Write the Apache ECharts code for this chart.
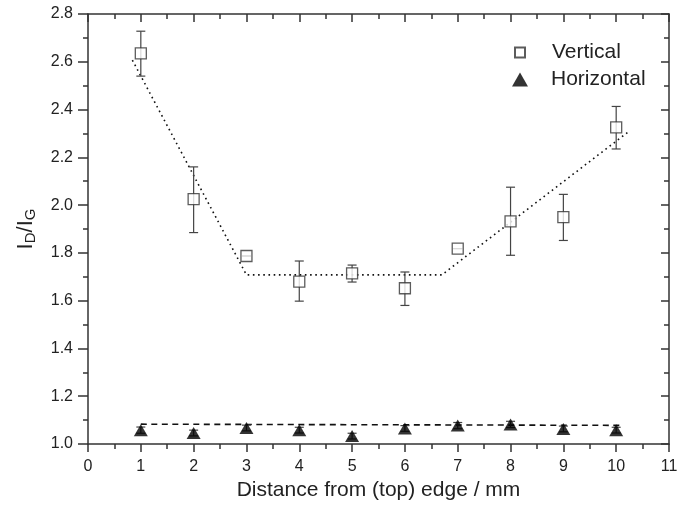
<!DOCTYPE html>
<html><head><meta charset="utf-8">
<script src="https://cdn.jsdelivr.net/npm/echarts@6/dist/echarts.min.js"></script>
<style>html,body{margin:0;padding:0;background:#fff}#c{width:691px;height:506px}</style>
</head><body><div id="c"></div>
<script>
// ---- data ----
var positions = [1, 2, 3, 4, 5, 6, 7, 8, 9, 10];
var verticalVals = [2.635, 2.025, 1.787, 1.680, 1.714, 1.652, 1.818, 1.932, 1.950, 2.325];
var verticalLow  = [2.540, 1.885, 1.787, 1.598, 1.678, 1.580, 1.818, 1.790, 1.852, 2.235];
var verticalHigh = [2.728, 2.160, 1.787, 1.766, 1.749, 1.720, 1.818, 2.075, 2.045, 2.413];
var horizontalVals = [1.058, 1.046, 1.067, 1.058, 1.033, 1.065, 1.077, 1.082, 1.063, 1.058];
var horizontalLow  = [1.045, 1.034, 1.055, 1.046, 1.021, 1.053, 1.064, 1.069, 1.051, 1.046];
var horizontalHigh = [1.071, 1.058, 1.079, 1.070, 1.045, 1.077, 1.090, 1.095, 1.075, 1.070];
var verticalFitX = [0.84, 3.0, 6.7, 10.25];
var verticalFitY = [2.607, 1.708, 1.708, 2.31];
var horizontalFitX = [1.0, 10.1];
var horizontalFitY = [1.083, 1.078];
var xTicks = [0, 1, 2, 3, 4, 5, 6, 7, 8, 9, 10, 11];
var yTicks = [1.0, 1.2, 1.4, 1.6, 1.8, 2.0, 2.2, 2.4, 2.6, 2.8];

function zip(a, b) { return a.map(function (v, i) { return [v, b[i]]; }); }
function zip3(a, b, c) { return a.map(function (v, i) { return [v, b[i], c[i]]; }); }

var INK = '#222';
var FONT = 'Liberation Sans, Arial, sans-serif';

function errRender(params, api) {
  var x = api.value(0);
  var lo = api.coord([x, api.value(1)]);
  var hi = api.coord([x, api.value(2)]);
  var w = 4.5;
  var st = { stroke: '#444', lineWidth: 1.2, fill: null };
  return {
    type: 'group',
    children: [
      { type: 'line', shape: { x1: lo[0], y1: lo[1], x2: hi[0], y2: hi[1] }, style: st },
      { type: 'line', shape: { x1: lo[0] - w, y1: lo[1], x2: lo[0] + w, y2: lo[1] }, style: st },
      { type: 'line', shape: { x1: hi[0] - w, y1: hi[1], x2: hi[0] + w, y2: hi[1] }, style: st }
    ]
  };
}

var axisLine = { show: true, onZero: false, lineStyle: { color: '#333', width: 1.5 } };
var tickStyle = { color: '#333', width: 1.5 };
var legendText = { fontFamily: FONT, fontSize: 21, color: INK };
var chart = echarts.init(document.getElementById('c'));
chart.setOption({
  animation: false,
  backgroundColor: '#fff',
  grid: { left: 88, right: 22, top: 14, bottom: 61, containLabel: false },
  legend: [{
    left: 509, top: 37, itemWidth: 10, itemHeight: 10, itemGap: 0,
    textStyle: Object.assign({ padding: [0, 0, 0, 22] }, legendText),
    data: ['Vertical']
  }, {
    left: 507, top: 64, itemWidth: 16, itemHeight: 14, itemGap: 0,
    textStyle: Object.assign({ padding: [0, 0, 0, 18] }, legendText),
    data: ['Horizontal']
  }],
  xAxis: [{
    type: 'value', min: xTicks[0], max: xTicks[xTicks.length - 1], interval: 1,
    position: 'bottom',
    name: 'Distance from (top) edge / mm', nameLocation: 'middle', nameGap: 36,
    nameTextStyle: { fontFamily: FONT, fontSize: 21, color: INK },
    axisLine: axisLine,
    axisTick: { show: true, length: 8, lineStyle: tickStyle },
    minorTick: { show: true, splitNumber: 2, length: 5, lineStyle: tickStyle },
    axisLabel: { fontFamily: FONT, fontSize: 16, color: INK, margin: 15 },
    splitLine: { show: false }
  }, {
    type: 'value', min: xTicks[0], max: xTicks[xTicks.length - 1], interval: 1,
    position: 'top',
    axisLine: axisLine,
    axisTick: { show: true, inside: true, length: 8, lineStyle: tickStyle },
    minorTick: { show: true, splitNumber: 2, length: 5, lineStyle: tickStyle },
    axisLabel: { show: false },
    splitLine: { show: false }
  }],
  yAxis: [{
    type: 'value', min: yTicks[0], max: yTicks[yTicks.length - 1], interval: 0.2,
    position: 'left',
    name: '{a|I}{s|D}{a|/I}{s|G}', nameLocation: 'middle', nameGap: 50, nameRotate: 90,
    nameTextStyle: {
      rich: {
        a: { fontFamily: FONT, fontSize: 22, color: INK },
        s: { fontFamily: FONT, fontSize: 15, color: INK, verticalAlign: 'bottom', padding: [10, 0, 0, 0] }
      }
    },
    axisLine: axisLine,
    axisTick: { show: true, length: 10, lineStyle: tickStyle },
    minorTick: { show: true, splitNumber: 2, length: 5, lineStyle: tickStyle },
    axisLabel: { fontFamily: FONT, fontSize: 16, color: INK, margin: 15,
      formatter: function (v) { return v.toFixed(1); } },
    splitLine: { show: false }
  }, {
    type: 'value', min: yTicks[0], max: yTicks[yTicks.length - 1], interval: 0.2,
    position: 'right',
    axisLine: axisLine,
    axisTick: { show: true, inside: true, length: 8, lineStyle: tickStyle },
    minorTick: { show: true, splitNumber: 2, length: 5, lineStyle: tickStyle },
    axisLabel: { show: false },
    splitLine: { show: false }
  }],
  series: [
    {
      name: 'Vertical fit', type: 'line', data: zip(verticalFitX, verticalFitY),
      showSymbol: false, symbol: 'none', z: 2,
      lineStyle: { color: '#111', width: 1.6, type: [1.6, 3.6] }
    },
    {
      name: 'Horizontal fit', type: 'line', data: zip(horizontalFitX, horizontalFitY),
      showSymbol: false, symbol: 'none', z: 2,
      lineStyle: { color: '#111', width: 1.6, type: [6, 4.5] }
    },
    {
      name: 'Vertical err', type: 'custom', renderItem: errRender,
      data: zip3(positions, verticalLow, verticalHigh), z: 3
    },
    {
      name: 'Horizontal err', type: 'custom', renderItem: errRender,
      data: zip3(positions, horizontalLow, horizontalHigh), z: 3
    },
    {
      name: 'Vertical', type: 'scatter', data: zip(positions, verticalVals),
      symbol: 'rect', symbolSize: 11, z: 5,
      itemStyle: { color: '#fff', borderColor: '#333', borderWidth: 1.3 }
    },
    {
      name: 'Horizontal', type: 'scatter', data: zip(positions, horizontalVals),
      symbol: 'triangle', symbolSize: [14, 12], z: 5,
      itemStyle: { color: '#000' }
    }
  ]
});
</script></body></html>
